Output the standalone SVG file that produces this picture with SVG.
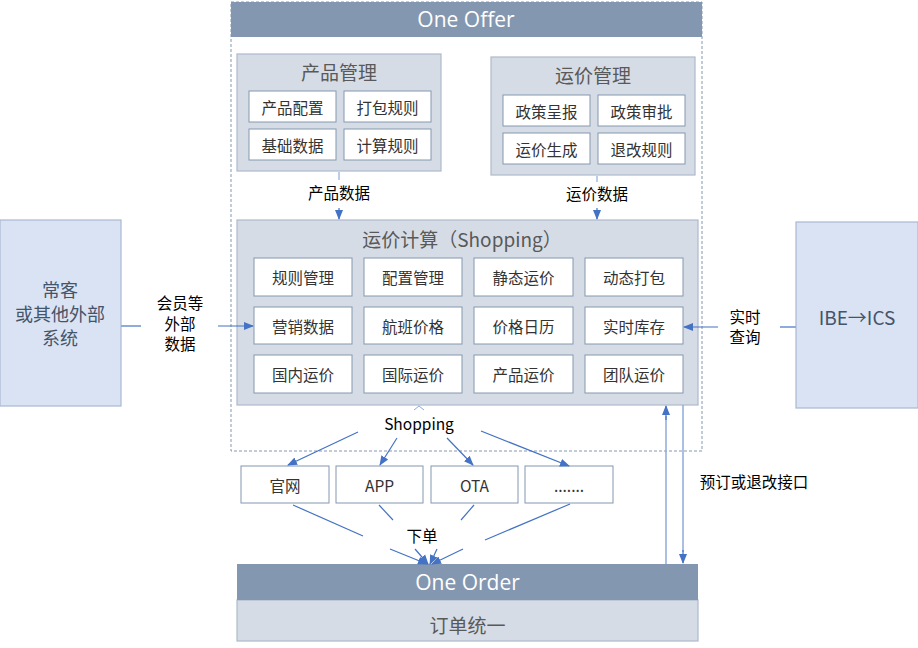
<svg xmlns="http://www.w3.org/2000/svg" width="918" height="648" viewBox="0 0 918 648">
<defs>
<marker id="ah" markerWidth="10" markerHeight="10" refX="9" refY="5" orient="auto" markerUnits="userSpaceOnUse">
<path d="M0,1 L10,5 L0,9 Z" fill="#4472C4"/>
</marker>
</defs>
<style>
text{font-family:"Noto Sans CJK SC","Noto Sans",sans-serif;text-anchor:middle;dominant-baseline:central}
.hdr{fill:#8497B0}
.grp{fill:#D6DCE5;stroke:#ADB9CA;stroke-width:1.2}
.cell{fill:#FFFFFF;stroke:#8497B0;stroke-width:1}
.ext{fill:#DAE3F3;stroke:#A9B8D0;stroke-width:1.2}
.ht{fill:#FFFFFF;font-size:21px;font-family:"Open Sans","Noto Sans",sans-serif}
.gt{fill:#595959;font-size:19px}
.ct{fill:#333333;font-size:15.5px}
.lb{fill:#000000;font-size:15.5px}
.et{fill:#44546A;font-size:18px}
.ar{stroke:#4472C4;stroke-width:1.2;fill:none}
.lt{stroke:#8FAADC;stroke-width:2;fill:none}
</style>
<g id="one-offer">
<rect x="231" y="2" width="471" height="449" fill="none" stroke="#8497B0" stroke-dasharray="3,2" stroke-width="1"/>
<rect class="hdr" x="231" y="2" width="471" height="35"/>
<text class="ht" x="466" y="19">One Offer</text>
</g>
<g id="product-mgmt">
<rect class="grp" x="237" y="54" width="204" height="117"/>
<text class="gt" x="339" y="71">产品管理</text>
<rect class="cell" x="249" y="91" width="87" height="31"/><text class="ct" x="292.5" y="106.5">产品配置</text>
<rect class="cell" x="344" y="91" width="87" height="31"/><text class="ct" x="387.5" y="106.5">打包规则</text>
<rect class="cell" x="249" y="129" width="87" height="31"/><text class="ct" x="292.5" y="144.5">基础数据</text>
<rect class="cell" x="344" y="129" width="87" height="31"/><text class="ct" x="387.5" y="144.5">计算规则</text>
</g>
<g id="fare-mgmt">
<rect class="grp" x="491" y="57" width="204" height="118"/>
<text class="gt" x="593" y="74">运价管理</text>
<rect class="cell" x="503" y="95" width="87" height="31"/><text class="ct" x="546.5" y="110.5">政策呈报</text>
<rect class="cell" x="598" y="95" width="87" height="31"/><text class="ct" x="641.5" y="110.5">政策审批</text>
<rect class="cell" x="503" y="133" width="87" height="31"/><text class="ct" x="546.5" y="148.5">运价生成</text>
<rect class="cell" x="598" y="133" width="87" height="31"/><text class="ct" x="641.5" y="148.5">退改规则</text>
</g>
<g id="shopping">
<rect class="grp" x="237" y="220" width="461" height="185"/>
<text class="gt" x="462" y="238">运价计算（Shopping）</text>
<rect class="cell" x="254" y="258" width="98" height="38"/><text class="ct" x="303" y="277">规则管理</text>
<rect class="cell" x="364" y="258" width="98" height="38"/><text class="ct" x="413" y="277">配置管理</text>
<rect class="cell" x="474" y="258" width="99" height="38"/><text class="ct" x="523.5" y="277">静态运价</text>
<rect class="cell" x="585" y="258" width="98" height="38"/><text class="ct" x="634" y="277">动态打包</text>
<rect class="cell" x="254" y="307" width="98" height="37"/><text class="ct" x="303" y="325.5">营销数据</text>
<rect class="cell" x="364" y="307" width="98" height="37"/><text class="ct" x="413" y="325.5">航班价格</text>
<rect class="cell" x="474" y="307" width="99" height="37"/><text class="ct" x="523.5" y="325.5">价格日历</text>
<rect class="cell" x="585" y="307" width="98" height="37"/><text class="ct" x="634" y="325.5">实时库存</text>
<rect class="cell" x="254" y="355" width="98" height="38"/><text class="ct" x="303" y="374">国内运价</text>
<rect class="cell" x="364" y="355" width="98" height="38"/><text class="ct" x="413" y="374">国际运价</text>
<rect class="cell" x="474" y="355" width="99" height="38"/><text class="ct" x="523.5" y="374">产品运价</text>
<rect class="cell" x="585" y="355" width="98" height="38"/><text class="ct" x="634" y="374">团队运价</text>
</g>
<g id="member-ext">
<rect class="ext" x="0" y="220" width="121" height="186"/>
<text class="et" x="60" y="289">常客</text>
<text class="et" x="60" y="313">或其他外部</text>
<text class="et" x="60" y="337">系统</text>
</g>
<g id="ibe-ics">
<rect class="ext" x="796" y="222" width="122" height="186"/>
<text class="et" x="857" y="316" style="font-size:19px">IBE→ICS</text>
</g>
<g id="ch-web"><rect class="cell" x="241" y="466" width="88" height="37"/><text class="ct" x="285" y="484.5">官网</text></g>
<g id="ch-app"><rect class="cell" x="336" y="466" width="87" height="37"/><text class="ct" x="379.5" y="484.5">APP</text></g>
<g id="ch-ota"><rect class="cell" x="431" y="466" width="87" height="37"/><text class="ct" x="474.5" y="484.5">OTA</text></g>
<g id="ch-more"><rect class="cell" x="525" y="466" width="88" height="37"/><text class="ct" x="569" y="484.5">.......</text></g>
<g id="one-order">
<rect class="grp" x="237" y="600" width="461" height="41"/>
<rect class="hdr" x="237" y="564" width="461" height="36"/>
<text class="ht" x="467.5" y="582">One Order</text>
<text class="gt" x="467.5" y="624">订单统一</text>
</g>
<g id="connectors">
<line x1="339" y1="172" x2="339" y2="180" stroke="#8FAADC" stroke-width="1.2"/>
<line class="ar" x1="339" y1="208" x2="339" y2="219" marker-end="url(#ah)"/>
<text class="lb" x="339" y="192">产品数据</text>
<line x1="597" y1="176" x2="597" y2="182" stroke="#8FAADC" stroke-width="1.2"/>
<line class="ar" x1="597" y1="208" x2="597" y2="219" marker-end="url(#ah)"/>
<text class="lb" x="597" y="193">运价数据</text>
<line class="lt" x1="121" y1="326" x2="141" y2="326"/>
<text class="lb" x="180" y="302">会员等</text>
<text class="lb" x="180" y="323">外部</text>
<text class="lb" x="180" y="343">数据</text>
<line class="ar" x1="218" y1="326" x2="253" y2="326" marker-end="url(#ah)"/>
<line class="lt" x1="796" y1="327" x2="780" y2="327"/>
<text class="lb" x="745" y="316">实时</text>
<text class="lb" x="745" y="336">查询</text>
<line class="ar" x1="718" y1="327" x2="684" y2="327" marker-end="url(#ah)"/>
<path d="M414,410 L419,406 L424,410" fill="none" stroke="#8FAADC" stroke-width="1"/>
<text class="lb" x="419" y="423">Shopping</text>
<line class="ar" x1="358" y1="432" x2="288" y2="465" marker-end="url(#ah)"/>
<line class="ar" x1="397" y1="438" x2="380" y2="465" marker-end="url(#ah)"/>
<line class="ar" x1="447" y1="438" x2="473" y2="465" marker-end="url(#ah)"/>
<line class="ar" x1="481" y1="431" x2="569" y2="466" marker-end="url(#ah)"/>
<line class="ar" x1="293" y1="505" x2="363" y2="536"/>
<line class="ar" x1="379" y1="505" x2="393" y2="520"/>
<line class="ar" x1="474" y1="505" x2="461" y2="520"/>
<line class="ar" x1="570" y1="504" x2="485" y2="540"/>
<text class="lb" x="422" y="535">下单</text>
<line class="ar" x1="390" y1="549" x2="427" y2="564" marker-end="url(#ah)"/>
<line class="ar" x1="415" y1="549" x2="428" y2="564" marker-end="url(#ah)"/>
<line class="ar" x1="437" y1="549" x2="430" y2="564" marker-end="url(#ah)"/>
<line class="ar" x1="463" y1="549" x2="432" y2="564" marker-end="url(#ah)"/>
<line x1="666" y1="564" x2="666" y2="416" stroke="#8FAADC" stroke-width="1.5"/>
<line class="ar" x1="666" y1="420" x2="666" y2="406" marker-end="url(#ah)"/>
<line x1="683" y1="405" x2="683" y2="552" stroke="#8FAADC" stroke-width="1.5"/>
<line class="ar" x1="683" y1="550" x2="683" y2="563" marker-end="url(#ah)"/>
<text class="lb" x="754" y="481">预订或退改接口</text>
</g>
</svg>
